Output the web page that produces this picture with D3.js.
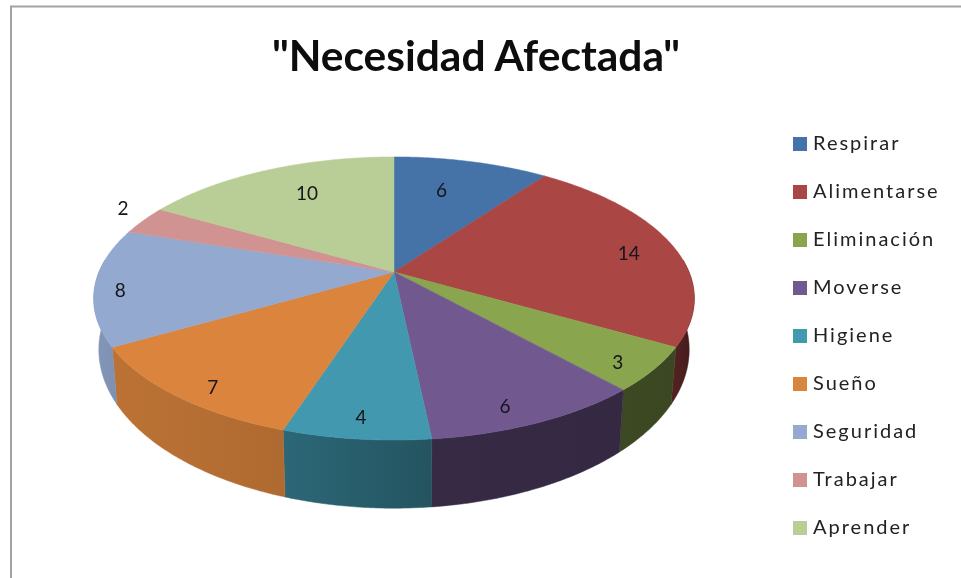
<!DOCTYPE html>
<html>
<head>
<meta charset="utf-8">
<script src="https://cdn.jsdelivr.net/npm/d3@7"></script>
<style>
  html, body { margin: 0; padding: 0; background: #fff; }
  svg { display: block; }
</style>
</head>
<body>
<div id="chart"></div>
<script>
// data
var categories = ["Respirar", "Alimentarse", "Eliminación", "Moverse", "Higiene", "Sueño", "Seguridad", "Trabajar", "Aprender"];
var values = [6, 14, 3, 6, 4, 7, 8, 2, 10];
var colors = ["#4573a7", "#aa4644", "#89a54e", "#71588f", "#4198af", "#db843d", "#93a9cf", "#d19392", "#b9cd96"];
// where each number sits on its slice
var labelRadius = [0.70, 0.83, 0.895, 0.888, 0.89, 0.903, 0.915, 1.13, 0.728];
var labelTurn = [-3, 2, 2, 3, 0, -3, -2, 3, 3];
// side wall shading of each slice, left end and right end
var wallLeft = [0.4, 0.5, 0.44, 0.48, 0.68, 0.86, 0.9, 0.9, 0.9];
var wallRight = [0.4, 0.38, 0.43, 0.46, 0.55, 0.8, 0.85, 0.9, 0.9];

var w = 961, h = 578;
var svg = d3.select("#chart").append("svg").attr("width", w).attr("height", h);
var defs = svg.append("defs");
defs.append("filter").attr("id", "soft").append("feGaussianBlur").attr("stdDeviation", 0.45);

// chart frame, only top and left show in the picture
svg.append("path")
  .attr("d", "M11,578V6.5H961")
  .attr("fill", "none").attr("stroke", "#a3a3a3").attr("stroke-width", 2);

svg.append("text")
  .attr("x", 476).attr("y", 71)
  .attr("text-anchor", "middle")
  .attr("font-family", "Lato")
  .attr("font-weight", 700)
  .attr("font-size", 42.5)
  .attr("fill", "#0a0a0a")
  .attr("filter", "url(#soft)")
  .text("\"Necesidad Afectada\"");

// perspective tilt of the pie: one projection for the top face, one for the floor
var tilt = 0.187;
function project(a, b, cy, r, angle) {
  var u = r * Math.sin(angle), v = r * Math.cos(angle), d = 1 + tilt * v;
  return [394 + a * u / d, cy - b * v / d];
}
function topFace(angle, r) { return project(295, 136.6, 272, r === undefined ? 1 : r, angle); }
function floorFace(angle) { return project(290, 153, 320, 1, angle); }

var arcs = d3.pie().sort(null).startAngle(0).endAngle(2 * Math.PI)(values);
var line = d3.line();
var rad = Math.PI / 180;

function steps(a0, a1) {
  var n = Math.max(2, Math.ceil((a1 - a0) / (0.5 * rad)));
  return d3.range(n + 1).map(function(i) { return a0 + (a1 - a0) * i / n; });
}
function shaded(color, s) {
  var c = d3.rgb(color);
  return d3.rgb(c.r * s, c.g * s, c.b * s).formatHex();
}

var wallFrom = 85 * rad, wallTo = 275 * rad;
var walls = svg.append("g");
arcs.forEach(function(d, i) {
  var a0 = Math.max(d.startAngle, wallFrom), a1 = Math.min(d.endAngle, wallTo);
  if (a1 <= a0) return;
  var g = defs.append("linearGradient").attr("id", "wall" + i);
  g.append("stop").attr("offset", 0).attr("stop-color", shaded(colors[i], wallLeft[i]));
  g.append("stop").attr("offset", 1).attr("stop-color", shaded(colors[i], wallRight[i]));
  var as = steps(a0, a1);
  var pts = as.map(function(a) { return topFace(a); })
    .concat(as.slice().reverse().map(floorFace));
  walls.append("path")
    .attr("d", line(pts) + "Z")
    .attr("fill", "url(#wall" + i + ")")
    .attr("stroke", "url(#wall" + i + ")")
    .attr("stroke-width", 0.5);
});

var faces = svg.append("g");
arcs.forEach(function(d, i) {
  var pts = [topFace(0, 0)].concat(steps(d.startAngle, d.endAngle).map(function(a) { return topFace(a); }));
  faces.append("path")
    .attr("d", line(pts) + "Z")
    .attr("fill", colors[i])
    .attr("stroke", colors[i])
    .attr("stroke-width", 0.5);
});

svg.append("g").attr("filter", "url(#soft)")
  .selectAll("text").data(arcs).enter().append("text")
  .attr("x", function(d, i) { return topFace((d.startAngle + d.endAngle) / 2 + labelTurn[i] * rad, labelRadius[i])[0]; })
  .attr("y", function(d, i) { return topFace((d.startAngle + d.endAngle) / 2 + labelTurn[i] * rad, labelRadius[i])[1]; })
  .attr("dy", "0.36em")
  .attr("text-anchor", "middle")
  .attr("font-family", "Lato")
  .attr("font-size", 19)
  .attr("fill", "#14141a")
  .text(function(d) { return d.value; });

// legend
var legendY = d3.scalePoint().domain(categories).range([144, 528]);
var legend = svg.append("g");
legend.selectAll("rect").data(categories).enter().append("rect")
  .attr("x", 793)
  .attr("y", function(d) { return legendY(d) - 7; })
  .attr("width", 14).attr("height", 14)
  .attr("fill", function(d, i) { return colors[i]; });
legend.append("g").attr("filter", "url(#soft)")
  .selectAll("text").data(categories).enter().append("text")
  .attr("x", 813)
  .attr("y", function(d) { return legendY(d) - 1; })
  .attr("dy", "0.36em")
  .attr("font-family", "Lato")
  .attr("font-size", 20)
  .attr("letter-spacing", 2)
  .attr("fill", "#222")
  .text(function(d) { return d; });
</script>
</body>
</html>
